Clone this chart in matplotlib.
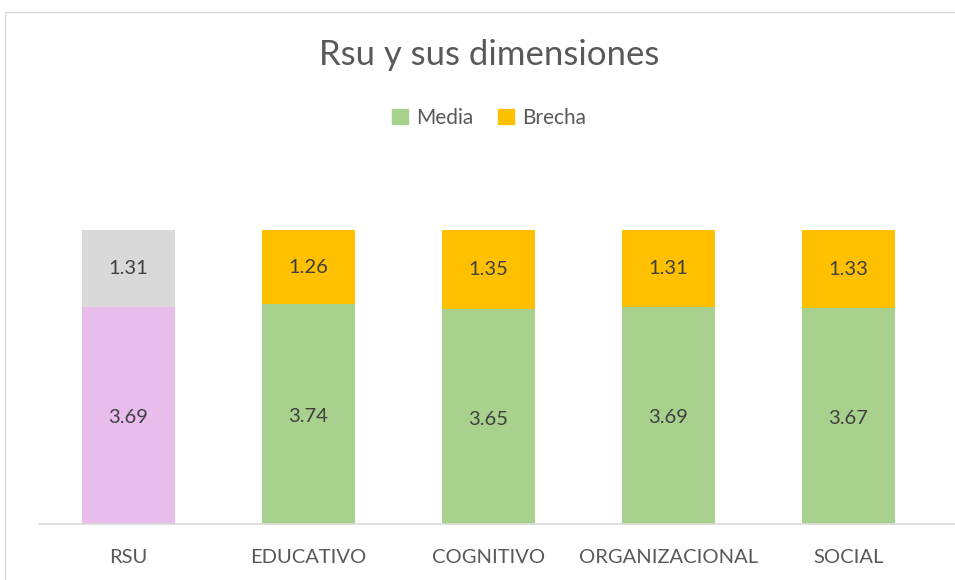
import matplotlib.pyplot as plt
from matplotlib.patches import Rectangle

# Datos del gráfico
categorias = ['RSU', 'EDUCATIVO', 'COGNITIVO', 'ORGANIZACIONAL', 'SOCIAL']
media = [3.69, 3.74, 3.65, 3.69, 3.67]
brecha = [1.31, 1.26, 1.35, 1.31, 1.33]

verde = '#A9D18E'
naranja = '#FFC000'
col_media = ['#E8BDEC'] + [verde] * 4
col_brecha = ['#D9D9D9'] + [naranja] * 4

plt.rcParams['font.family'] = ['Lato', 'DejaVu Sans']

W, H = 955, 580
fig = plt.figure(figsize=(W / 100, H / 100), dpi=100)

# Marco del gráfico
fig.patches.append(Rectangle((4.5 / W, -0.1), 1.2, 1 - 11.5 / H + 0.1,
                             transform=fig.transFigure, fill=False,
                             edgecolor='#D9D9D9', linewidth=1))

ax = fig.add_axes([38.5 / W, 56 / H, (W - 38.5) / W, 294 / H])

x = range(len(categorias))
ax.bar(x, media, width=0.517, color=col_media)
ax.bar(x, brecha, bottom=media, width=0.517, color=col_brecha)

for i in x:
    ax.text(i, media[i] / 2 - 0.04, f'{media[i]:.2f}', ha='center', va='center',
            fontsize=14.5, color='#404040')
    ax.text(i, media[i] + brecha[i] / 2, f'{brecha[i]:.2f}', ha='center',
            va='center', fontsize=14.5, color='#404040')

ax.set_xlim(-0.5, -0.5 + (W - 38.5) / 180)
ax.set_ylim(0, 5)
for s in ['top', 'right', 'left']:
    ax.spines[s].set_visible(False)
ax.spines['bottom'].set_color('#D9D9D9')
ax.spines['bottom'].set_linewidth(1.2)
ax.set_yticks([])
ax.set_xticks(list(x))
ax.set_xticklabels(categorias, fontsize=14.5, color='#595959')
ax.tick_params(axis='x', length=0, pad=18)

fig.text(489 / W, 1 - 55 / H, 'Rsu y sus dimensiones', ha='center',
         va='center', fontsize=25, color='#595959')

# Leyenda
handles = [Rectangle((0, 0), 1, 1, color=verde), Rectangle((0, 0), 1, 1, color=naranja)]
fig.legend(handles, ['Media', 'Brecha'], loc='center', bbox_to_anchor=(489 / W, 1 - 118 / H),
           ncol=2, frameon=False, fontsize=15, handlelength=0.75, handleheight=0.75,
           handletextpad=0.4, columnspacing=1.2, labelcolor='#595959')

fig.savefig('out.png', dpi=100)
